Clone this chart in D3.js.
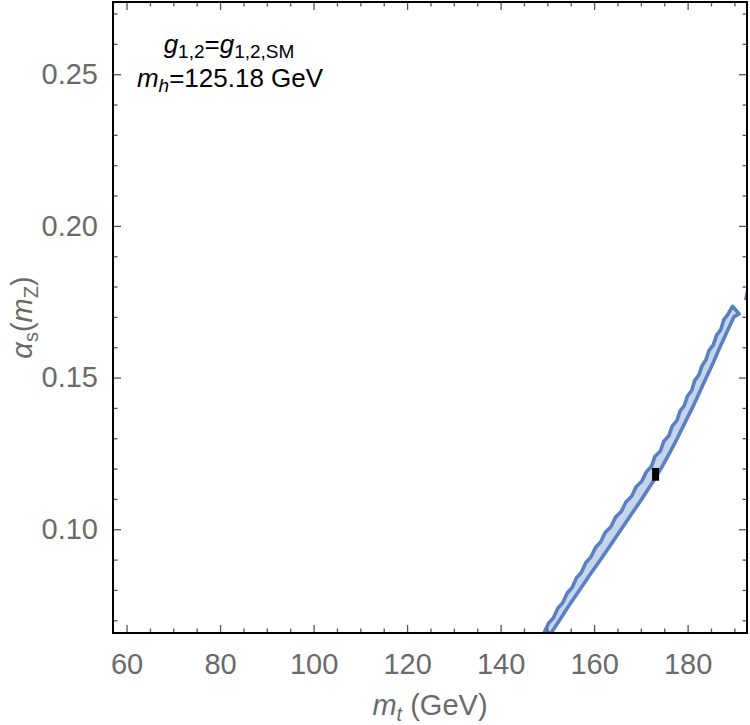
<!DOCTYPE html>
<html lang="en">
<head>
<meta charset="UTF-8">
<title>alpha_s vs m_t</title>
<script src="https://d3js.org/d3.v7.min.js"></script>
<style>
  body { margin: 0; background: #fff; }
  svg { display: block; font-family: "Liberation Sans", Arial, sans-serif; }
  .tick text { fill: #6a6a6a; font-size: 29px; }
  .tick line { stroke: #555; stroke-width: 1.3; }
  .axis-title { fill: #6a6a6a; font-size: 29px; }
  .note { fill: #000; font-size: 26px; }
</style>
</head>
<body>
<svg id="chart" width="750" height="725"></svg>
<script>
  // tick labels
  const mtTicks = [60, 80, 100, 120, 140, 160, 180];
  const asTicks = [0.10, 0.15, 0.20, 0.25];

  // jagged (upper/left) edge of the allowed band: [m_t, alpha_s]
  const leftEdge = [
    [149.3, 0.0658], [150.25, 0.0690], [151.3, 0.0708], [152.25, 0.0740],
    [153.3, 0.0758], [154.25, 0.0790], [155.3, 0.0808], [156.25, 0.0840],
    [157.3, 0.0858], [158.25, 0.0890], [159.3, 0.0908], [160.3, 0.0940],
    [161.4, 0.0958], [162.4, 0.0990], [163.6, 0.1008], [164.6, 0.1040],
    [165.8, 0.1058], [166.8, 0.1090], [168.0, 0.1108], [169.0, 0.1140],
    [170.2, 0.1158], [171.2, 0.1190], [172.3, 0.1208], [173.0, 0.1240],
    [174.2, 0.1258], [174.9, 0.1290], [176.0, 0.1308], [176.7, 0.1340],
    [177.7, 0.1358], [178.4, 0.1390], [179.3, 0.1408], [180.0, 0.1440],
    [180.9, 0.1458], [181.5, 0.1490], [182.4, 0.1508], [183.1, 0.1540],
    [183.9, 0.1558], [184.6, 0.1590], [185.5, 0.1608], [186.2, 0.1640],
    [187.1, 0.1658], [187.7, 0.1690], [188.6, 0.1708], [189.6, 0.1735]
  ];
  // smooth (lower/right) edge of the band
  const rightEdge = [
    [150.8, 0.0658], [152.6, 0.070], [154.7, 0.075], [156.9, 0.080],
    [159.1, 0.085], [161.4, 0.090], [163.6, 0.095], [165.8, 0.100],
    [168.0, 0.105], [170.2, 0.110], [172.3, 0.115], [174.3, 0.120],
    [176.1, 0.125], [177.8, 0.130], [179.4, 0.135], [181.0, 0.140],
    [182.5, 0.145], [184.0, 0.150], [185.5, 0.155], [186.9, 0.160],
    [188.4, 0.165], [189.9, 0.170], [191.0, 0.1710]
  ];
  // sliver of the band peeking in at the right frame edge
  const edgeSliver = [[192.4, 0.1755], [192.9, 0.1790]];

  // SM point (m_t, alpha_s) box
  const smMt = [172.4, 173.9];
  const smAs = [0.1160, 0.1202];

  const svg = d3.select("#chart");
  const margin = { top: 2, right: 3, bottom: 92, left: 113 };
  const W = 750 - margin.left - margin.right;
  const H = 725 - margin.top - margin.bottom;

  const x = d3.scaleLinear().domain([57.1, 192.7]).range([0, W]);
  const y = d3.scaleLinear().domain([0.0658, 0.2738]).range([H, 0]);

  const g = svg.append("g").attr("transform", `translate(${margin.left},${margin.top})`);

  svg.append("defs").append("clipPath").attr("id", "plotClip")
    .append("rect").attr("width", W).attr("height", H);

  const plot = g.append("g").attr("clip-path", "url(#plotClip)");

  // band: fill + outline
  const band = leftEdge.concat(rightEdge.slice().reverse());
  const line = d3.line().x(d => x(d[0])).y(d => y(d[1]));
  plot.append("path")
    .attr("d", line(band) + "Z")
    .attr("fill", "#c6d4ec")
    .attr("stroke", "#5b80c2")
    .attr("stroke-width", 3.6)
    .attr("stroke-linejoin", "round");
  plot.append("path")
    .attr("d", line(edgeSliver))
    .attr("fill", "none")
    .attr("stroke", "#5b80c2")
    .attr("stroke-width", 3.6);

  // SM marker
  plot.append("rect")
    .attr("x", x(smMt[0]))
    .attr("y", y(smAs[1]))
    .attr("width", x(smMt[1]) - x(smMt[0]))
    .attr("height", y(smAs[0]) - y(smAs[1]))
    .attr("fill", "#000");

  // ticks on all four sides (pointing inward)
  const mtMinor = d3.range(60, 193, 5).filter(v => v % 20 !== 0);
  const asMinor = d3.range(7, 28).map(v => v / 100).filter(v => Math.round(v * 100) % 5 !== 0);
  const major = 8, minor = 4.5;

  function addAxis(axis, transform, showLabels) {
    const a = g.append("g").attr("transform", transform).call(axis);
    a.select(".domain").remove();
    if (!showLabels) a.selectAll("text").remove();
    return a;
  }

  addAxis(d3.axisBottom(x).tickValues(mtTicks).tickSize(-major).tickPadding(20).tickFormat(d3.format("d")),
    `translate(0,${H})`, true);
  addAxis(d3.axisBottom(x).tickValues(mtMinor).tickSize(-minor).tickFormat(""), `translate(0,${H})`, false);
  addAxis(d3.axisTop(x).tickValues(mtTicks).tickSize(-major), "translate(0,0)", false);
  addAxis(d3.axisTop(x).tickValues(mtMinor).tickSize(-minor), "translate(0,0)", false);

  addAxis(d3.axisLeft(y).tickValues(asTicks).tickSize(-major).tickPadding(15).tickFormat(d3.format(".2f")),
    "translate(0,0)", true);
  addAxis(d3.axisLeft(y).tickValues(asMinor).tickSize(-minor).tickFormat(""), "translate(0,0)", false);
  addAxis(d3.axisRight(y).tickValues(asTicks).tickSize(-major), `translate(${W},0)`, false);
  addAxis(d3.axisRight(y).tickValues(asMinor).tickSize(-minor), `translate(${W},0)`, false);

  g.selectAll(".tick text").attr("font-family", null).attr("font-size", null);

  // frame
  g.append("rect")
    .attr("width", W).attr("height", H)
    .attr("fill", "none").attr("stroke", "#000").attr("stroke-width", 2);

  // axis titles
  const xt = svg.append("text").attr("class", "axis-title")
    .attr("x", margin.left + W / 2).attr("y", 715).attr("text-anchor", "middle");
  xt.append("tspan").attr("font-style", "italic").text("m");
  xt.append("tspan").attr("font-style", "italic").attr("font-size", "20px").attr("dy", 6).text("t");
  xt.append("tspan").attr("dy", -6).text(" (GeV)");

  const yt = svg.append("text").attr("class", "axis-title")
    .attr("transform", `translate(32,${margin.top + H / 2}) rotate(-90)`)
    .attr("text-anchor", "middle");
  yt.append("tspan").attr("font-style", "italic").text("\u03b1");
  yt.append("tspan").attr("font-size", "20px").attr("dy", 6).text("s");
  yt.append("tspan").attr("dy", -6).text("(");
  yt.append("tspan").attr("font-style", "italic").text("m");
  yt.append("tspan").attr("font-size", "20px").attr("dy", 6).text("Z");
  yt.append("tspan").attr("dy", -6).text(")");

  // inset notes
  const n1 = svg.append("text").attr("class", "note")
    .attr("x", 229).attr("y", 53).attr("text-anchor", "middle");
  n1.append("tspan").attr("font-style", "italic").text("g");
  n1.append("tspan").attr("font-size", "19px").attr("dy", 5).text("1,2");
  n1.append("tspan").attr("dy", -5).text("=");
  n1.append("tspan").attr("font-style", "italic").text("g");
  n1.append("tspan").attr("font-size", "19px").attr("dy", 5).text("1,2,SM");

  const n2 = svg.append("text").attr("class", "note")
    .attr("x", 230).attr("y", 87).attr("text-anchor", "middle");
  n2.append("tspan").attr("font-style", "italic").text("m");
  n2.append("tspan").attr("font-style", "italic").attr("font-size", "19px").attr("dy", 5).text("h");
  n2.append("tspan").attr("dy", -5).text("=125.18 GeV");
</script>
</body>
</html>
